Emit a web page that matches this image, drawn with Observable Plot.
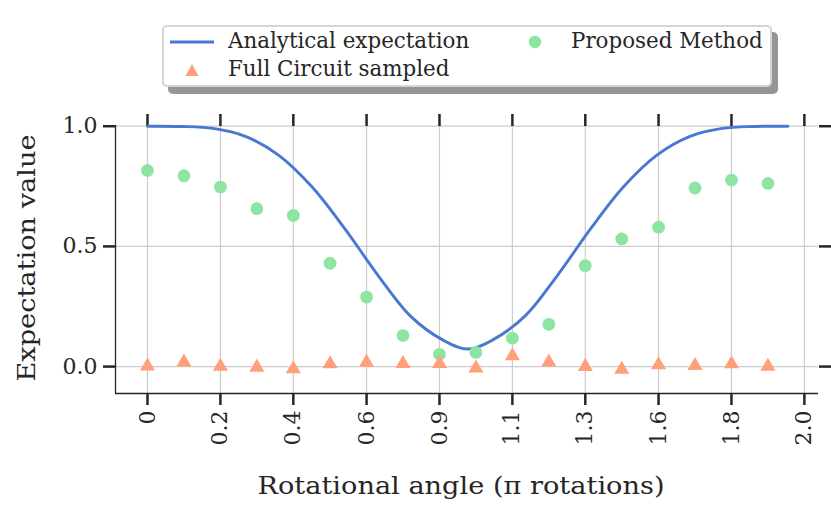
<!DOCTYPE html>
<html>
<head>
<meta charset="utf-8">
<script src="https://cdn.jsdelivr.net/npm/d3@7"></script>
<script src="https://cdn.jsdelivr.net/npm/@observablehq/plot@0.6"></script>
<style>
  body { margin: 0; background: #fff; }
  #wrap { position: relative; width: 831px; height: 513px; font-family: "DejaVu Serif", serif; }
  #wrap svg.plot { position: absolute; left: 0; top: 0; }
  #legend { position: absolute; left: 162px; top: 25px; width: 606px; height: 58px;
    background: #fff; border: 2px solid #d4d4d4; border-radius: 5px;
    box-shadow: 6px 7px 0 #959595; font-size: 21.4px; color: #262626; }
  #legend .it { position: absolute; white-space: nowrap; line-height: 24px; }
</style>
</head>
<body>
<div id="wrap"></div>
<script>
// ---- data ----
const xTicks = [0, 0.222, 0.444, 0.667, 0.889, 1.111, 1.333, 1.556, 1.778, 2.0];
const xTickLabels = ["0", "0.2", "0.4", "0.6", "0.9", "1.1", "1.3", "1.6", "1.8", "2.0"];
const yTicks = [0, 0.5, 1.0];
const yTickLabels = ["0.0", "0.5", "1.0"];

const sampleX = [0, 0.111, 0.222, 0.333, 0.444, 0.556, 0.667, 0.778, 0.889, 1.0,
                 1.111, 1.222, 1.333, 1.444, 1.556, 1.667, 1.778, 1.889];
const proposed = [0.816, 0.794, 0.747, 0.657, 0.629, 0.430, 0.289, 0.129, 0.051, 0.059,
                  0.118, 0.176, 0.420, 0.531, 0.580, 0.743, 0.776, 0.762];
const fullCircuit = [0.002, 0.018, 0.001, -0.003, -0.010, 0.011, 0.017, 0.012, 0.012, -0.007,
                     0.044, 0.018, 0.000, -0.012, 0.007, 0.004, 0.011, 0.001];

const lineX = [0, 0.1, 0.2, 0.3, 0.4, 0.5, 0.6, 0.7, 0.8, 0.9, 0.975,
               1.05, 1.15, 1.25, 1.35, 1.45, 1.55, 1.65, 1.75, 1.85, 1.95];
const analytical = [1.0, 0.999, 0.991, 0.957, 0.879, 0.749, 0.575, 0.383, 0.211, 0.110, 0.073,
                    0.110, 0.211, 0.383, 0.575, 0.749, 0.879, 0.957, 0.991, 0.999, 1.0];

const seriesNames = ["Analytical expectation", "Proposed Method", "Full Circuit sampled"];
const colors = ["#4878d0", "#8de5a1", "#ffa07a"];
const xTitle = "Rotational angle (π rotations)";
const yTitle = "Expectation value";

// ---- tables ----
const lineData = lineX.map((x, i) => ({x, y: analytical[i]}));
const propData = sampleX.map((x, i) => ({x, y: proposed[i]}));
const fullData = sampleX.map((x, i) => ({x, y: fullCircuit[i]}));

const xDomain = [-0.0974, 2.043];
const yDomain = [-0.112, 1.003];
const tickColor = "#262626";
const fmtX = d => xTickLabels[xTicks.indexOf(d)];
const fmtY = d => yTickLabels[yTicks.indexOf(d)];

const chart = Plot.plot({
  width: 831,
  height: 513,
  marginTop: 125,
  marginBottom: 120,
  marginLeft: 115,
  marginRight: 13,
  style: {fontFamily: "DejaVu Serif, serif", color: tickColor, background: "transparent"},
  x: {domain: xDomain},
  y: {domain: yDomain},
  marks: [
    Plot.gridX(xTicks, {stroke: "#cccccc", strokeOpacity: 1, strokeWidth: 1.2}),
    Plot.gridY(yTicks, {stroke: "#cccccc", strokeOpacity: 1, strokeWidth: 1.2}),
    Plot.ruleX([xDomain[0]], {stroke: tickColor, strokeWidth: 1.3}),
    Plot.ruleY([yDomain[0]], {stroke: tickColor, strokeWidth: 1.3}),
    Plot.axisX({anchor: "bottom", ticks: xTicks, tickFormat: fmtX, tickSize: 12, tickPadding: 5,
      tickRotate: -90, fontSize: 22, label: null, strokeWidth: 2.5, stroke: tickColor}),
    Plot.axisX({anchor: "top", ticks: xTicks, tickFormat: () => "", tickSize: 12,
      label: null, strokeWidth: 2.5, stroke: tickColor}),
    Plot.axisY({anchor: "left", ticks: yTicks, tickFormat: fmtY, tickSize: 12, tickPadding: 6,
      fontSize: 22, label: null, strokeWidth: 2.5, stroke: tickColor}),
    Plot.axisY({anchor: "right", ticks: yTicks, tickFormat: () => "", tickSize: 12,
      label: null, strokeWidth: 2.5, stroke: tickColor}),
    Plot.line(lineData, {x: "x", y: "y", stroke: colors[0], strokeWidth: 2.9, curve: "catmull-rom"}),
    Plot.dot(propData, {x: "x", y: "y", r: 6.4, fill: colors[1], stroke: "none"}),
    Plot.dot(fullData, {x: "x", y: "y", r: 5.6, symbol: "triangle", fill: colors[2], stroke: "none"})
  ]
});
chart.classList.add("plot");
const svg = d3.select(chart);
svg.append("text").attr("x", 461).attr("y", 494).attr("text-anchor", "middle")
  .attr("font-size", 25).attr("fill", tickColor)
  .attr("textLength", 407).attr("lengthAdjust", "spacingAndGlyphs").text(xTitle);
svg.append("text").attr("transform", "translate(35,258) rotate(-90)").attr("text-anchor", "middle")
  .attr("font-size", 25).attr("fill", tickColor)
  .attr("textLength", 247).attr("lengthAdjust", "spacingAndGlyphs").text(yTitle);

const wrap = document.getElementById("wrap");
wrap.appendChild(chart);

// ---- legend ----
const legend = document.createElement("div");
legend.id = "legend";
legend.innerHTML = `
  <svg class="it" style="left:5px;top:12px" width="46" height="6"><line x1="1" x2="45" y1="3" y2="3" stroke="${colors[0]}" stroke-width="2.9"/></svg>
  <div class="it" style="left:64px;top:2px">${seriesNames[0]}</div>
  <svg class="it" style="left:363px;top:7px" width="16" height="16"><circle cx="8" cy="8" r="6.2" fill="${colors[1]}"/></svg>
  <div class="it" style="left:407px;top:2px">${seriesNames[1]}</div>
  <svg class="it" style="left:20px;top:35px" width="16" height="16"><path d="M8,2 L14.5,14 L1.5,14 Z" fill="${colors[2]}"/></svg>
  <div class="it" style="left:64px;top:30px">${seriesNames[2]}</div>`;
wrap.appendChild(legend);
</script>
</body>
</html>
